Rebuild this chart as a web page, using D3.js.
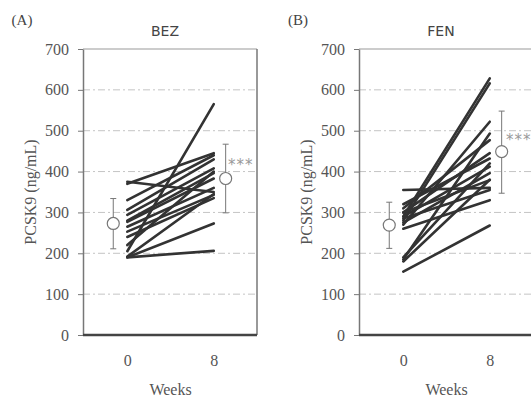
<!DOCTYPE html>
<html><head><meta charset="utf-8">
<script src="https://cdn.jsdelivr.net/npm/d3@7"></script>
<style>body{margin:0;background:#fff}</style>
</head><body>
<script>
const weeks = [0, 8];
const yTicks = [0, 100, 200, 300, 400, 500, 600, 700];
const titles = ["BEZ", "FEN"];
const panelLabels = ["(A)", "(B)"];
// individual patients: [week0, week8]
const bezLines = [
  [375, 350], [370, 445], [330, 440], [306, 430], [294, 408], [280, 396],
  [277, 383], [265, 360], [253, 343], [240, 335], [220, 400], [205, 565],
  [192, 345], [190, 273], [190, 206]
];
const fenLines = [
  [290, 628], [280, 616], [270, 522], [185, 493], [310, 477], [300, 445],
  [320, 432], [290, 412], [275, 396], [300, 379], [355, 360], [285, 355],
  [260, 330], [190, 420], [180, 380], [155, 268]
];
// mean and SD: [mean, low, high]
const bezMean = [[273, 211, 334], [383, 299, 467]];
const fenMean = [[269, 212, 325], [449, 347, 548]];
const meanPos = [-1.3, 9.1];
const sigText = "***";

const W = 531, H = 397;
const svg = d3.select("body").append("svg").attr("width", W).attr("height", H);
const serif = "'Liberation Serif', 'DejaVu Serif', serif";
const sans = "'DejaVu Sans', 'Liberation Sans', sans-serif";

const panels = [
  {left: 83, lines: bezLines, mean: bezMean, title: titles[0], label: panelLabels[0], labelX: 22, ylabX: 30, sigX: 228, sigY: 170},
  {left: 359, lines: fenLines, mean: fenMean, title: titles[1], label: panelLabels[1], labelX: 298, ylabX: 306, sigX: 506, sigY: 145}
];
const plotW = 174, plotTop = 49, plotBottom = 335;
const y = d3.scaleLinear().domain([0, 700]).range([plotBottom, plotTop]);

panels.forEach(p => {
  const x = d3.scaleLinear().domain([-4.1, 12]).range([p.left, p.left + plotW]);
  const g = svg.append("g");
  // grid
  g.selectAll(".grid").data(yTicks.filter(t => t > 0 && t < 700)).join("line")
    .attr("x1", p.left).attr("x2", p.left + plotW)
    .attr("y1", d => y(d)).attr("y2", d => y(d))
    .attr("stroke", "#c4c4c4").attr("stroke-width", 1).attr("stroke-dasharray", "7,3,2,3");
  // box
  g.append("line").attr("x1", p.left).attr("x2", p.left + plotW).attr("y1", plotTop).attr("y2", plotTop)
    .attr("stroke", "#999").attr("stroke-width", 1);
  g.append("line").attr("x1", p.left + plotW).attr("x2", p.left + plotW).attr("y1", plotTop).attr("y2", plotBottom)
    .attr("stroke", "#777").attr("stroke-width", 1.5);
  // y axis
  const ya = g.append("g").attr("transform", `translate(${p.left},0)`)
    .call(d3.axisLeft(y).tickValues(yTicks).tickSize(5).tickSizeOuter(0).tickPadding(9));
  ya.select(".domain").attr("stroke", "#777").attr("stroke-width", 1.5);
  ya.selectAll(".tick line").attr("stroke", "#777");
  ya.selectAll("text").attr("font-family", serif).attr("font-size", 16).attr("fill", "#555");
  // x axis
  const xa = g.append("g").attr("transform", `translate(0,${plotBottom})`)
    .call(d3.axisBottom(x).tickValues(weeks).tickSize(0).tickPadding(20));
  xa.select(".domain").attr("stroke", "#444").attr("stroke-width", 2.5)
    .attr("d", `M${p.left},0H${p.left + plotW}`);
  xa.selectAll("text").attr("font-family", serif).attr("font-size", 16).attr("fill", "#555");
  // patient lines
  g.selectAll(".pl").data(p.lines).join("line")
    .attr("x1", x(weeks[0])).attr("x2", x(weeks[1]))
    .attr("y1", d => y(d[0])).attr("y2", d => y(d[1]))
    .attr("stroke", "#333").attr("stroke-width", 2.6).attr("stroke-linecap", "round");
  // mean ± SD
  p.mean.forEach((m, i) => {
    const cx = x(meanPos[i]);
    g.append("line").attr("x1", cx).attr("x2", cx).attr("y1", y(m[1])).attr("y2", y(m[2]))
      .attr("stroke", "#777").attr("stroke-width", 1);
    [m[1], m[2]].forEach(v => g.append("line").attr("x1", cx - 3).attr("x2", cx + 3)
      .attr("y1", y(v)).attr("y2", y(v)).attr("stroke", "#777").attr("stroke-width", 1));
    g.append("circle").attr("cx", cx).attr("cy", y(m[0])).attr("r", 6)
      .attr("fill", "#fff").attr("stroke", "#777").attr("stroke-width", 1.2);
  });
  g.append("text").attr("x", p.sigX).attr("y", p.sigY).text(sigText)
    .attr("font-family", sans).attr("font-size", 15).attr("fill", "#999").attr("letter-spacing", 1);
  // titles
  g.append("text").attr("x", p.left + 82).attr("y", 36).attr("text-anchor", "middle")
    .attr("font-family", sans).attr("font-size", 14).attr("fill", "#444").text(p.title);
  g.append("text").attr("x", p.labelX).attr("y", 25).attr("text-anchor", "middle")
    .attr("font-family", serif).attr("font-size", 15).attr("fill", "#444").text(p.label);
  g.append("text").attr("transform", `translate(${p.ylabX},${(plotTop + plotBottom) / 2}) rotate(-90)`)
    .attr("text-anchor", "middle").attr("dy", "0.35em")
    .attr("font-family", serif).attr("font-size", 16).attr("fill", "#555").text("PCSK9 (ng/mL)");
  g.append("text").attr("x", (x(0) + x(8)) / 2).attr("y", 395).attr("text-anchor", "middle")
    .attr("font-family", serif).attr("font-size", 16).attr("fill", "#555").text("Weeks");
});
</script>
</body></html>
